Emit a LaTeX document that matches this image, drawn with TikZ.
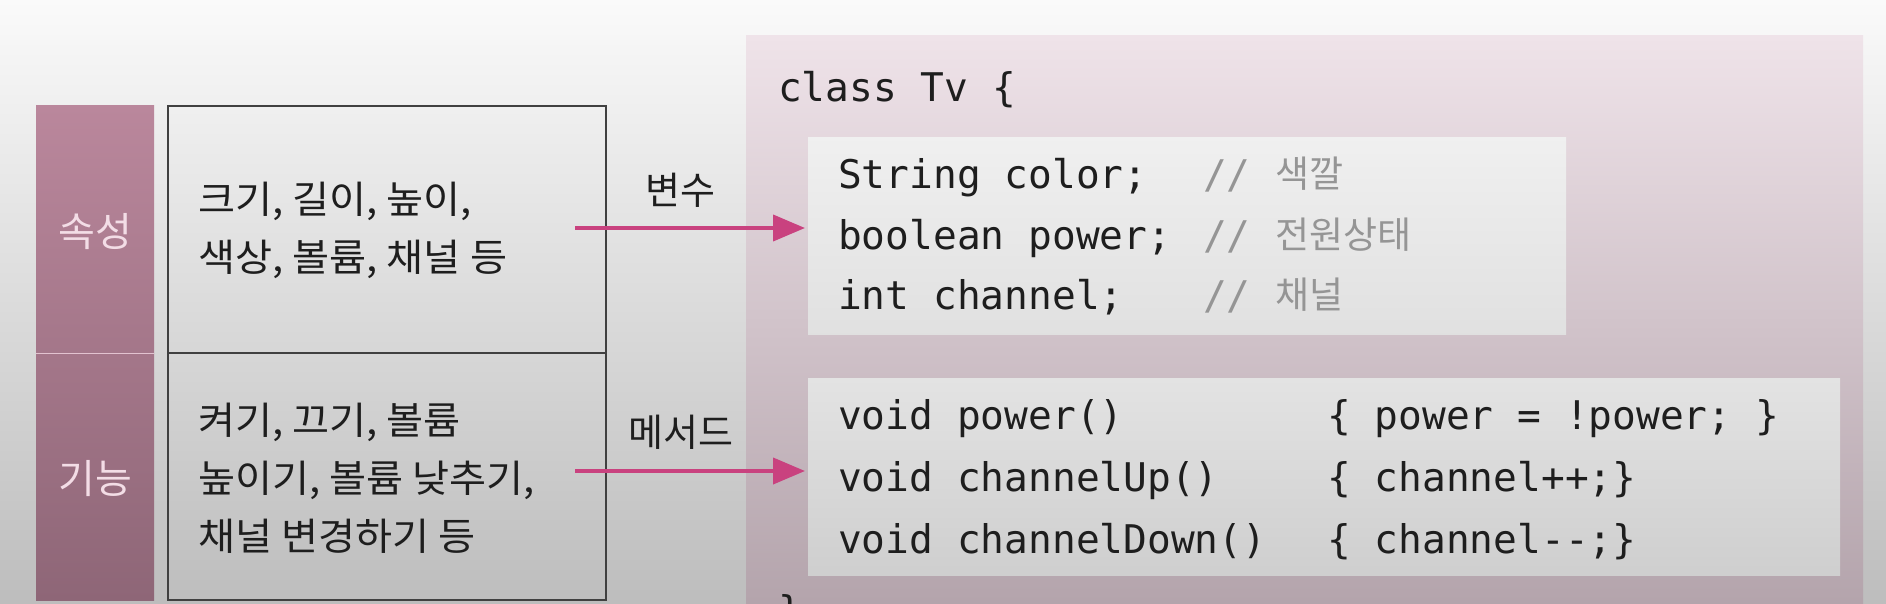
\documentclass[tikz,border=0pt]{standalone}
\usepackage{fontspec}
\setmainfont{Noto Sans CJK KR}
\newfontfamily\kr{Noto Sans CJK KR}
\newfontfamily\krw[FakeStretch=1.06]{Noto Sans CJK KR}
\newfontfamily\mono{DejaVu Sans Mono}
\usetikzlibrary{arrows.meta}
\definecolor{bgtop}{HTML}{FAFAFA}
\definecolor{bgbot}{HTML}{BDBDBD}
\definecolor{paneltop}{HTML}{EFE3E9}
\definecolor{panelbot}{HTML}{B2A2AA}
\definecolor{bartop}{HTML}{BA879C}
\definecolor{barbot}{HTML}{8E6677}
\definecolor{arrowc}{HTML}{C9427F}
\definecolor{barlabel}{HTML}{F3DDE6}
\definecolor{commentc}{HTML}{959595}
\definecolor{inkc}{HTML}{1E1E1E}
\tikzset{
  korean/.style={font=\kr\fontsize{38}{58}\selectfont, text=inkc, inner sep=0pt},
  cellkr/.style={font=\krw\fontsize{38}{58}\selectfont, text=inkc, inner sep=0pt, anchor=west, align=left},
  barlbl/.style={font=\kr\fontsize{40}{48}\selectfont, text=barlabel, inner sep=0pt},
  code/.style={font=\mono\fontsize{39.5}{47}\selectfont, text=inkc, inner sep=0pt, text height=0.75em, text depth=0.1em, anchor=west},
  cmt/.style={code, text=commentc},
  cmtkr/.style={font=\kr\fontsize{37}{44}\selectfont, text=commentc, inner sep=0pt, text height=0.75em, text depth=0.1em, anchor=west},
  link/.style={draw=arrowc, line width=4pt, -{Triangle[length=32pt,width=26pt]}},
  cellbox/.style={draw=inkc!85, line width=2.5pt},
}
\begin{document}
\begin{tikzpicture}[x=1pt,y=-1pt]
\useasboundingbox (0,0) rectangle (1886,604);
% background
\fill[top color=bgtop, bottom color=bgbot] (0,0) rectangle (1886,604);
% class panel
\fill[top color=paneltop, bottom color=panelbot] (746,36) rectangle (1863,620);
% left pink bar
\fill[top color=bartop, bottom color=barbot] (36,106) rectangle (154,600);
\draw[barlabel!70!bartop, line width=1.5pt] (36,353.5) -- (154,353.5);
\node[barlbl] (attr) at (95,232) {속성};
\node[barlbl] (func) at (95,479) {기능};
% table cells
\draw[cellbox] (168,106) rectangle (606,600);
\draw[cellbox, line width=2pt] (168,353) -- (606,353);
\node[cellkr] (cell1) at (198,230) {크기,\ 길이,\ 높이,\\색상,\ 볼륨,\ 채널 등};
\node[cellkr] (cell2) at (198,478) {켜기,\ 끄기,\ 볼륨\\높이기,\ 볼륨 낮추기,\\채널 변경하기 등};
% code boxes
\fill[top color=white!94!black, bottom color=white!88!black] (808,138) rectangle (1566,334);
\fill[top color=white!89!black, bottom color=white!81!black] (808,378) rectangle (1840,575);
\coordinate (code1) at (808,228);
\coordinate (code2) at (808,471);
% class header
\node[code] (cls) at (778,98) {class Tv \{};
% fields
\node[code] (f1) at (838,185) {String color;};
\node[code] (f2) at (838,246) {boolean power;};
\node[code] (f3) at (838,306) {int channel;};
\node[cmt] (c1) at (1203,185) {//};
\node[cmt] (c2) at (1203,246) {//};
\node[cmt] (c3) at (1203,306) {//};
\node[cmtkr] (k1) at (1275,184) {색깔};
\node[cmtkr] (k2) at (1275,245) {전원상태};
\node[cmtkr] (k3) at (1275,305) {채널};
% methods
\node[code] (m1) at (838,426) {void power()};
\node[code] (m2) at (838,488) {void channelUp()};
\node[code] (m3) at (838,550) {void channelDown()};
\node[code] (b1) at (1327,426) {\{ power = !power; \}};
\node[code] (b2) at (1327,488) {\{ channel++;\}};
\node[code] (b3) at (1327,550) {\{ channel-{}-;\}};
\node[code, anchor=base west, text height=, text depth=] (close) at (778,624) {\}};
% arrows
\coordinate (s1) at (575,228);
\coordinate (s2) at (575,471);
\draw[link, shorten >=3pt] (s1) -- (code1);
\draw[link, shorten >=3pt] (s2) -- (code2);
\node[korean, anchor=center] (var) at (680,190) {변수};
\node[korean, anchor=center] (meth) at (681,432) {메서드};
\end{tikzpicture}
\end{document}
